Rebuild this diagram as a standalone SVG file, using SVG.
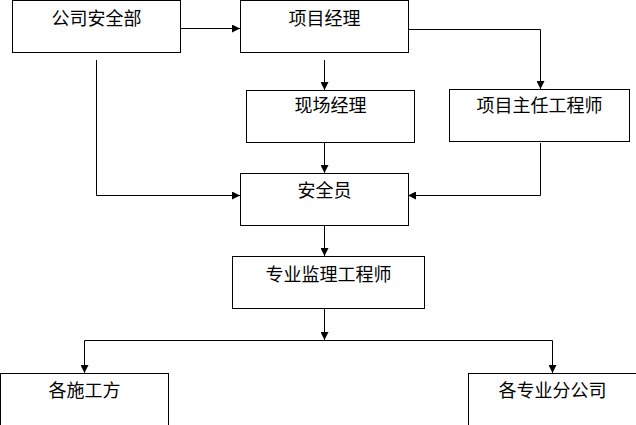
<svg xmlns="http://www.w3.org/2000/svg" width="636" height="425" viewBox="0 0 636 425">
<style>
.box{fill:#fff;stroke:#000;stroke-width:1}
.t{font-family:"Noto Sans CJK SC","Noto Sans CJK JP",sans-serif;font-size:18px;fill:#000;text-anchor:middle}
.ln{fill:none;stroke:#000;stroke-width:1;marker-end:url(#ah)}
.ln0{fill:none;stroke:#000;stroke-width:1}
</style>
<defs>
<marker id="ah" markerWidth="8" markerHeight="8" refX="8" refY="4" orient="auto" markerUnits="userSpaceOnUse">
<path d="M0,0 L8,4 L0,8 Z" fill="#000"/>
</marker>
</defs>
<rect width="636" height="425" fill="#fff"/>
<g id="connectors">
<path class="ln" d="M180,28.5 H240"/>
<path class="ln" d="M96.5,60 V195.5 H240"/>
<path class="ln" d="M324.5,60 V90"/>
<path class="ln" d="M408,29.5 H540.5 V89"/>
<path class="ln" d="M324.5,142 V173"/>
<path class="ln" d="M540.5,143 V195.5 H408"/>
<path class="ln" d="M324.5,225 V256"/>
<path class="ln" d="M324.5,308 V340"/>
<path class="ln0" d="M84.5,340.5 H552.5"/>
<path class="ln" d="M84.5,340.5 V373"/>
<path class="ln" d="M552.5,340.5 V373"/>
</g>
<g id="n1"><rect class="box" x="12.5" y="0.5" width="168" height="52"/><text class="t" x="96.5" y="25">公司安全部</text></g>
<g id="n2"><rect class="box" x="240.5" y="0.5" width="168" height="52"/><text class="t" x="324.5" y="25">项目经理</text></g>
<g id="n3"><rect class="box" x="246.5" y="90.5" width="168" height="52"/><text class="t" x="330.5" y="112">现场经理</text></g>
<g id="n4"><rect class="box" x="449.5" y="89.5" width="180" height="52"/><text class="t" x="539.5" y="112">项目主任工程师</text></g>
<g id="n5"><rect class="box" x="240.5" y="173.5" width="168" height="52"/><text class="t" x="324.5" y="197">安全员</text></g>
<g id="n6"><rect class="box" x="232.5" y="256.5" width="192" height="52"/><text class="t" x="328.5" y="281">专业监理工程师</text></g>
<g id="n7"><rect class="box" x="0.5" y="373.5" width="168" height="60"/><text class="t" x="84.5" y="397">各施工方</text></g>
<g id="n8"><rect class="box" x="468.5" y="373.5" width="180" height="60"/><text class="t" x="552.5" y="397">各专业分公司</text></g>
</svg>
